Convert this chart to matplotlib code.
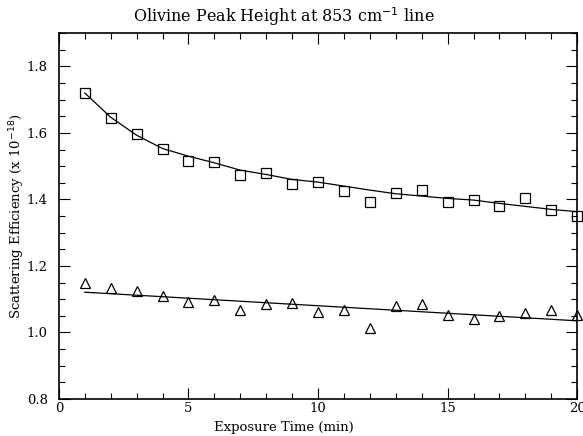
import matplotlib
matplotlib.use("Agg")
import matplotlib.pyplot as plt
from matplotlib.ticker import MultipleLocator

time_min = list(range(1, 21))
squares = [1.720, 1.646, 1.598, 1.551, 1.514, 1.512, 1.472, 1.480, 1.447, 1.451,
           1.426, 1.393, 1.420, 1.427, 1.391, 1.397, 1.380, 1.403, 1.368, 1.350]
square_fit = [1.720, 1.647, 1.593, 1.553, 1.530, 1.510, 1.488, 1.475, 1.460, 1.452,
              1.440, 1.428, 1.417, 1.410, 1.403, 1.398, 1.388, 1.379, 1.370, 1.363]
triangles = [1.148, 1.134, 1.124, 1.111, 1.093, 1.098, 1.066, 1.084, 1.088, 1.062,
             1.066, 1.013, 1.078, 1.086, 1.051, 1.041, 1.048, 1.058, 1.066, 1.053]
tri_fit_x = [1, 20]
tri_fit_y = [1.121, 1.035]

plt.rcParams['font.family'] = ['DejaVu Serif']
fig = plt.figure(figsize=(5.83, 4.36), dpi=100)
ax = fig.add_axes([0.101, 0.085, 0.889, 0.839])

ax.plot(time_min, square_fit, color='black', lw=0.9)
ax.plot(time_min, squares, linestyle='none', marker='s', markersize=6.5,
        markerfacecolor='none', markeredgecolor='black', markeredgewidth=0.9, clip_on=False)
ax.plot(tri_fit_x, tri_fit_y, color='black', lw=0.9)
ax.plot(time_min, triangles, linestyle='none', marker='^', markersize=6.5,
        markerfacecolor='none', markeredgecolor='black', markeredgewidth=0.9, clip_on=False)

ax.set_xlim(0, 20)
ax.set_ylim(0.8, 1.9)
ax.xaxis.set_major_locator(MultipleLocator(5))
ax.xaxis.set_minor_locator(MultipleLocator(1))
ax.yaxis.set_minor_locator(MultipleLocator(0.05))
ax.set_yticks([0.8, 1.0, 1.2, 1.4, 1.6, 1.8])
ax.set_yticklabels(['0.8', '1.0', '1.2', '1.4', '1.6', '1.8'])
ax.tick_params(which='both', direction='in', top=True, right=True, labelsize=9.5, width=0.8)
ax.tick_params(which='major', length=8)
ax.tick_params(which='minor', length=4)
ax.tick_params(axis='x', pad=2)
ax.tick_params(axis='y', pad=8)
for s in ax.spines.values():
    s.set_linewidth(1.2)

fig.text(284 / 583, 1 - 17 / 436, 'Olivine Peak Height at 853 cm$^{-1}$ line',
         fontsize=11.5, ha='center', va='center')
ax.set_xlabel('Exposure Time (min)', fontsize=9.5, va='center')
ax.xaxis.set_label_coords((284 - 59) / 518, -(428 - 399) / 366)
ax.set_ylabel('Scattering Efficiency (x 10$^{-18}$)', fontsize=9.5)
ax.yaxis.set_label_coords(-0.062, 0.5)

fig.savefig('out.png', dpi=100)
